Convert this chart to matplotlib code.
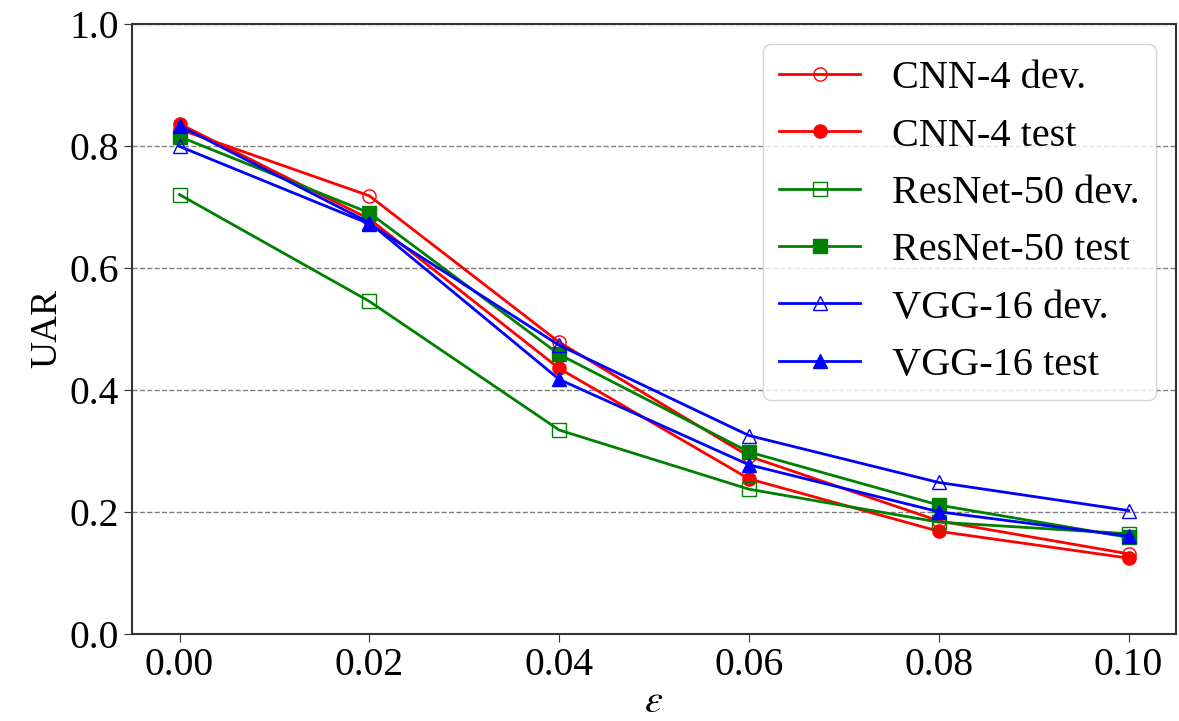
import matplotlib
matplotlib.use('Agg')
import matplotlib.pyplot as plt

plt.rcParams['font.family'] = ['Liberation Serif', 'DejaVu Serif']
plt.rcParams['mathtext.fontset'] = 'stix'

eps = [0.00, 0.02, 0.04, 0.06, 0.08, 0.10]

cnn_dev = [0.827, 0.718, 0.478, 0.291, 0.185, 0.131]
cnn_test = [0.836, 0.680, 0.435, 0.254, 0.168, 0.124]
resnet_dev = [0.720, 0.545, 0.334, 0.237, 0.183, 0.164]
resnet_test = [0.815, 0.690, 0.458, 0.298, 0.211, 0.158]
vgg_dev = [0.799, 0.672, 0.473, 0.325, 0.248, 0.202]
vgg_test = [0.833, 0.674, 0.417, 0.277, 0.200, 0.160]

fig, ax = plt.subplots(figsize=(11.79, 7.21), dpi=100)
fig.subplots_adjust(left=0.112, right=0.9975, top=0.967, bottom=0.121)

lw = 2.0
ms = 9.5
ax.plot(eps, cnn_dev, color='red', marker='o', mfc='none', lw=lw, ms=ms, label='CNN-4 dev.')
ax.plot(eps, cnn_test, color='red', marker='o', lw=lw, ms=ms, label='CNN-4 test')
ax.plot(eps, resnet_dev, color='green', marker='s', mfc='none', lw=lw, ms=ms, label='ResNet-50 dev.')
ax.plot(eps, resnet_test, color='green', marker='s', lw=lw, ms=ms, label='ResNet-50 test')
ax.plot(eps, vgg_dev, color='blue', marker='^', mfc='none', lw=lw, ms=ms, label='VGG-16 dev.')
ax.plot(eps, vgg_test, color='blue', marker='^', lw=lw, ms=ms, label='VGG-16 test')

ax.set_ylim(0, 1.0)
ax.set_xticks(eps)
ax.set_xticklabels(['0.00', '0.02', '0.04', '0.06', '0.08', '0.10'])
ax.set_yticks([0.0, 0.2, 0.4, 0.6, 0.8, 1.0])
ax.tick_params(labelsize=28.5, length=6, color='#333333')
for s in ax.spines.values():
    s.set_color('#333333')
    s.set_linewidth(1.5)
ax.yaxis.grid(True, linestyle='--', color='gray', lw=1)
ax.set_axisbelow(True)

ax.set_ylabel('UAR', fontsize=27)
ax.set_xlabel(r'$\varepsilon$', fontsize=29, labelpad=0)

ax.legend(fontsize=29, loc='upper right')

fig.savefig('out.png', dpi=100)
